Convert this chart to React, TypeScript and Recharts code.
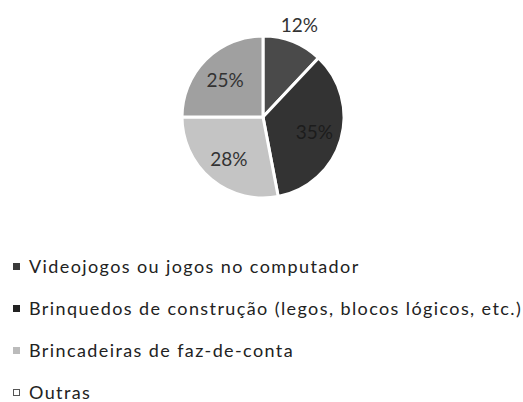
import { PieChart, Pie, Cell, Legend } from 'recharts';

const categories = [
  'Videojogos ou jogos no computador',
  'Brinquedos de construção (legos, blocos lógicos, etc.)',
  'Brincadeiras de faz-de-conta',
  'Outras',
];
const values = [12, 35, 28, 25];
const colors = ['#4a4a4a', '#333333', '#c4c4c4', '#a0a0a0'];
const markerColors = ['#3a3a3a', '#222222', '#bbbbbb', '#8a8a8a'];

const data = categories.map((name, i) => ({ name, value: values[i] }));

const RAD = Math.PI / 180;

const renderLabel = (props: any) => {
  const { cx, cy, midAngle, outerRadius, index, value } = props;
  const r = index === 0 ? outerRadius + 18 : outerRadius * 0.66;
  const x = cx + r * Math.cos(-midAngle * RAD);
  const y = cy + r * Math.sin(-midAngle * RAD);
  return (
    <text
      x={x}
      y={y}
      textAnchor="middle"
      dominantBaseline="central"
      fill={index === 1 ? '#1c1c1c' : '#333'}
      fontSize={19}
      fontFamily="Lato"
    >
      {`${value}%`}
    </text>
  );
};

const renderLegend = () => (
  <div style={{ fontFamily: 'Lato', fontSize: 18, letterSpacing: 1.4, color: '#222' }}>
    {categories.map((c, i) => (
      <div
        key={c}
        style={{ display: 'flex', alignItems: 'center', height: 42, whiteSpace: 'nowrap' }}
      >
        <span
          style={{
            display: 'inline-block',
            boxSizing: 'border-box',
            width: 7,
            height: 7,
            marginLeft: 13,
            marginRight: 9,
            background: i === 3 ? '#fff' : markerColors[i],
            border: i === 3 ? '1px solid #555' : 'none',
          }}
        />
        {c}
      </div>
    ))}
  </div>
);

export default function App() {
  return (
    <div style={{ position: 'absolute', left: 0, top: 0, width: 523, height: 402, background: '#fff' }}>
      <PieChart width={523} height={402} margin={{ top: 0, right: 0, bottom: 0, left: 0 }}>
        <Pie
          data={data}
          dataKey="value"
          cx={263}
          cy={117}
          outerRadius={81}
          startAngle={90}
          endAngle={-270}
          stroke="#ffffff"
          strokeWidth={3}
          label={renderLabel}
          labelLine={false}
          isAnimationActive={false}
        >
          {data.map((d, i) => (
            <Cell key={d.name} fill={colors[i]} />
          ))}
        </Pie>
        <Legend
          content={renderLegend}
          layout="vertical"
          wrapperStyle={{ position: 'absolute', top: 245, left: 0, width: 523 }}
        />
      </PieChart>
    </div>
  );
}
